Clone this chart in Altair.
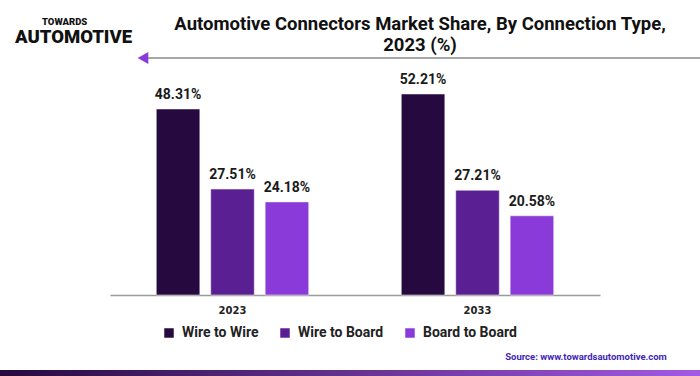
import altair as alt
import pandas as pd

years = ["2023", "2033"]
types = ["Wire to Wire", "Wire to Board", "Board to Board"]
values_2023 = [48.31, 27.51, 24.18]
values_2033 = [52.21, 27.21, 20.58]
colors = ["#26093f", "#5b1f94", "#8a3ad9"]

rows = []
for y, vals in zip(years, [values_2023, values_2033]):
    for t, v in zip(types, vals):
        rows.append({"year": y, "type": t, "value": v, "label": f"{v:.2f}%"})
df = pd.DataFrame(rows)

FONT = "Roboto"
W, H = 490, 231
LEFT, TOP = 110, 64

base = alt.Chart(df).encode(
    x=alt.X("year:N", sort=years,
            scale=alt.Scale(paddingInner=0, paddingOuter=0),
            axis=alt.Axis(title=None, labelAngle=0, ticks=False, domainColor="#9a9a9a",
                          domainWidth=1.5, labelFont="DejaVu Sans", labelFontSize=10,
                          labelFontWeight="bold", labelColor="#222", labelPadding=10)),
    xOffset=alt.XOffset("type:N", sort=types,
                        scale=alt.Scale(paddingInner=0.2, paddingOuter=0.85)),
    y=alt.Y("value:Q", scale=alt.Scale(domain=[0, 60], nice=False),
            axis=None),
)

bars = base.mark_bar(stroke="#ffffff", strokeWidth=0.5).encode(
    color=alt.Color("type:N", sort=types,
                    scale=alt.Scale(domain=types, range=colors),
                    legend=alt.Legend(title=None, orient="none", direction="horizontal",
                                      legendX=52, legendY=262, symbolType="square",
                                      symbolSize=90, symbolStrokeWidth=0,
                                      labelFont=FONT, labelFontSize=14, labelFontWeight="bold",
                                      labelColor="#222", columnPadding=19, labelOffset=6)),
)

labels = base.mark_text(baseline="bottom", dy=-7, font=FONT, fontSize=14,
                        fontWeight="bold", color="#1a1a1a").encode(text="label:N")

def txt(text, x, y, size, weight="bold", color="#111", align="center", font=FONT):
    d = pd.DataFrame({"t": [text]})
    return alt.Chart(d).mark_text(align=align, baseline="middle", font=font, fontSize=size,
                                  fontWeight=weight, color=color).encode(
        x=alt.value(x - LEFT), y=alt.value(y - TOP), text="t:N")

title1 = txt("Automotive Connectors Market Share, By Connection Type,", 420, 24, 18.5)
title2 = txt("2023 (%)", 420, 45, 18.5)

logo1 = txt("TOWARDS", 42, 22, 9.5, weight=900, align="left")
logo2 = txt("AUTOMOTIVE", 15, 37, 18.5, weight=900, align="left")

one = pd.DataFrame({"a": [1]})
arrow_line = alt.Chart(one).mark_rule(color="#8a8a8a", strokeWidth=1.5).encode(
    x=alt.value(145 - LEFT), x2=alt.value(700 - LEFT), y=alt.value(58 - TOP))
arrow_head = alt.Chart(one).mark_point(shape="triangle-left", filled=True, color="#8a3ad9",
                                       size=150, opacity=1).encode(
    x=alt.value(143 - LEFT), y=alt.value(58 - TOP))

source = txt("Source: www.towardsautomotive.com", 586, 357, 9.5, color="#3f1fb8")

grad = alt.Chart(one).mark_rect(
    color=alt.Gradient(gradient="linear",
                       stops=[alt.GradientStop(color="#26093f", offset=0),
                              alt.GradientStop(color="#a25ae2", offset=1)],
                       x1=0, x2=1, y1=0, y2=0)).encode(
    x=alt.value(0 - LEFT), x2=alt.value(700 - LEFT), y=alt.value(370 - TOP), y2=alt.value(376 - TOP))

chart = alt.layer(bars, labels, title1, title2, logo1, logo2, arrow_line, arrow_head,
                  source, grad).properties(
    width=W, height=H,
    autosize=alt.AutoSizeParams(type="none"),
    padding={"left": LEFT, "top": TOP, "right": 700 - LEFT - W, "bottom": 376 - TOP - H},
    background="white",
).configure_view(stroke=None)

chart.save("out.html", embed_options={"renderer": "svg", "actions": False})
